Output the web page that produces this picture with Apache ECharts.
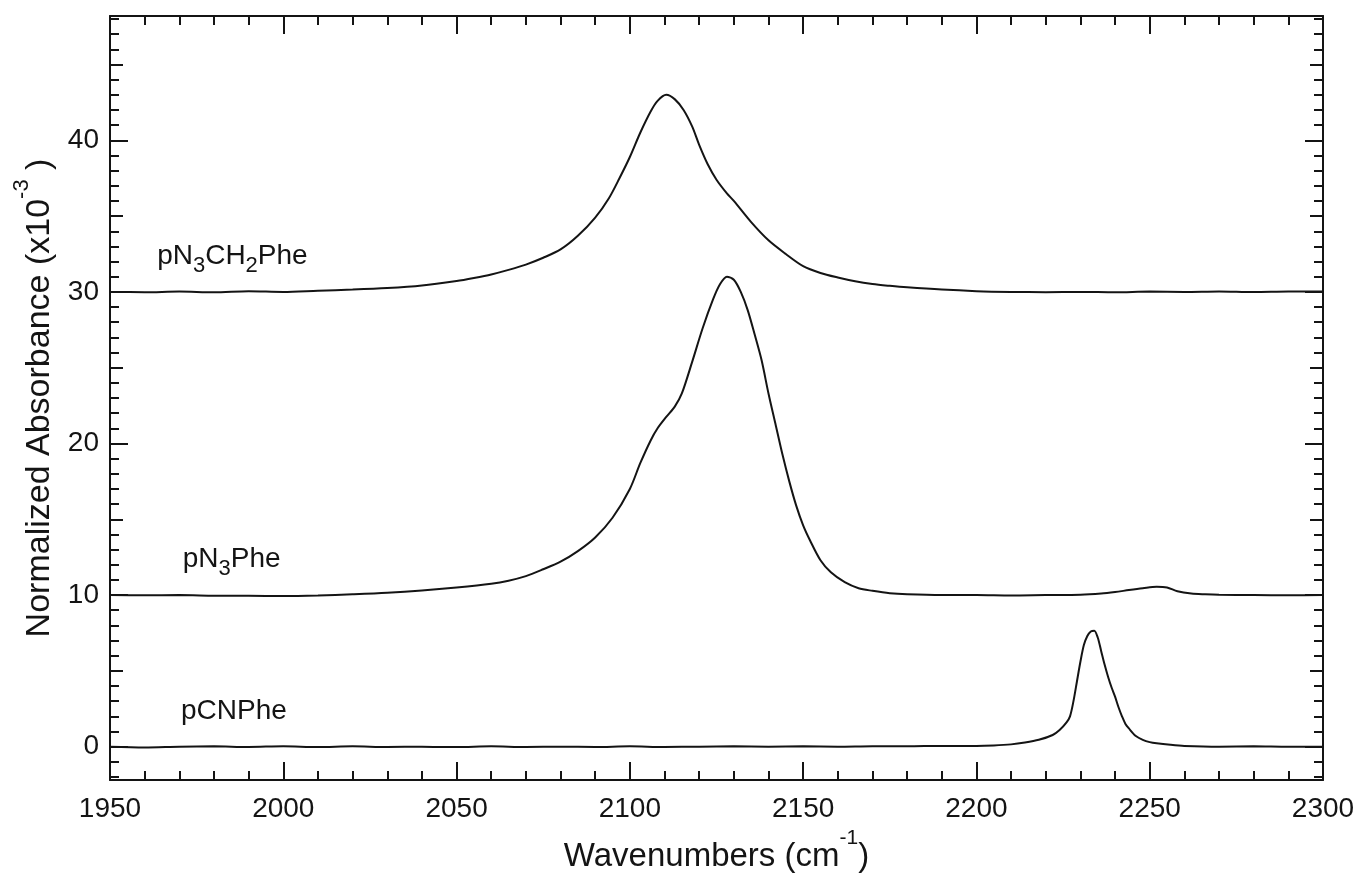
<!DOCTYPE html>
<html>
<head>
<meta charset="utf-8">
<title>IR spectra</title>
<script src="https://cdn.jsdelivr.net/npm/echarts@6/dist/echarts.min.js"></script>
<style>
html,body{margin:0;padding:0;background:#fff;}
#charts_area{width:1356px;height:875px;}
</style>
</head>
<body>
<div id="charts_area"></div>
<script>
// pN3CH2Phe, offset +30
var waveCH2 = [1950,1960,1970,1980,1990,2000,2010,2020,2030,2040,2050,2055,2060,2065,2070,2075,2080,2085,2090,2094,2097,2100,2103,2106,2108,2110.5,2113,2115.5,2118,2120,2122.5,2125,2128,2130,2135,2140,2145,2150,2155,2160,2165,2170,2175,2180,2190,2200,2210,2220,2230,2240,2250,2260,2270,2280,2290,2300];
var absCH2 = [30.0,29.98,30.02,29.97,30.05,30.0,30.08,30.15,30.25,30.42,30.72,30.92,31.15,31.45,31.8,32.25,32.8,33.7,34.9,36.2,37.5,38.9,40.5,41.9,42.6,43.0,42.7,42.0,40.9,39.7,38.4,37.4,36.5,36.0,34.6,33.4,32.5,31.7,31.25,30.95,30.7,30.52,30.4,30.3,30.15,30.05,30.0,29.98,30.0,29.97,30.02,30.0,30.03,29.99,30.02,30.02];

// pN3Phe, offset +10
var waveN3 = [1950,1960,1970,1980,1990,2000,2010,2020,2030,2040,2050,2060,2065,2070,2075,2080,2085,2090,2095,2100,2103,2106,2108,2110.5,2113,2115,2118,2121,2124,2126,2128,2130,2132,2134,2136,2138,2140,2142,2144,2146,2148,2150,2152,2155,2158,2162,2166,2170,2175,2180,2190,2200,2210,2220,2230,2236,2240,2244,2248,2252,2255,2258,2262,2266,2270,2280,2290,2300];
var absN3 = [10.0,9.98,10.0,9.96,9.95,9.93,9.97,10.05,10.15,10.3,10.5,10.75,10.95,11.25,11.7,12.2,12.9,13.8,15.1,17.0,18.7,20.2,21.0,21.75,22.45,23.3,25.4,27.6,29.5,30.5,31.0,30.8,30.0,28.8,27.2,25.5,23.3,21.3,19.3,17.5,15.9,14.6,13.6,12.3,11.5,10.85,10.45,10.28,10.12,10.05,10.0,10.0,9.97,10.0,10.02,10.1,10.2,10.33,10.45,10.55,10.5,10.25,10.1,10.05,10.02,10.0,9.98,10.0];

// pCNPhe, no offset
var waveCN = [1950,1960,1970,1980,1990,2000,2010,2020,2030,2040,2050,2060,2070,2080,2090,2100,2110,2120,2130,2140,2150,2160,2170,2180,2190,2200,2205,2210,2214,2218,2222,2224,2226,2227,2228,2229,2230,2231,2232,2233,2234,2235,2236,2237,2238,2239,2240,2241,2242,2243,2244,2246,2248,2250,2252,2256,2260,2270,2280,2290,2300];
var absCN = [0.0,-0.05,0.0,0.02,-0.02,0.03,-0.03,0.02,-0.02,0.0,-0.03,0.02,-0.02,0.0,-0.02,0.02,-0.02,0.0,0.02,0.0,0.02,0.0,0.03,0.02,0.05,0.05,0.08,0.15,0.27,0.45,0.77,1.1,1.6,2.0,3.0,4.3,5.6,6.7,7.3,7.6,7.65,7.2,6.3,5.4,4.6,3.9,3.3,2.6,2.0,1.5,1.2,0.7,0.45,0.3,0.22,0.12,0.05,0.0,0.02,-0.01,0.0];

var xTicks = [1950,2000,2050,2100,2150,2200,2250,2300];
var yTicks = [0,10,20,30,40];

// text tags next to each trace
var tagNames = ['pN3CH2Phe','pN3Phe','pCNPhe'];
var tagWave = [1963.6,1971,1970.5];
var tagAbs = [32.35,12.37,2.35];

var FONT = '"Liberation Sans", Arial, Helvetica, sans-serif';
var INK = '#141414';

window.onload = function(){
	initEcharts();
};

function pairs(xs, ys){
	var out = [];
	for(var i=0;i<xs.length;i++){
		out.push([xs[i], ys[i]]);
	}
	return out;
}

function tagText(name){
	if(name=='pN3CH2Phe') return '{t|pN}{s|3}{t|CH}{s|2}{t|Phe}';
	if(name=='pN3Phe') return '{t|pN}{s|3}{t|Phe}';
	return '{t|' + name + '}';
}

function makeY(pos, step, len, showLabel, showLine){
	return {
		type: 'value',
		position: pos,
		min: -2.2,
		max: 48.2,
		splitNumber: Math.round(50 / step),
		minInterval: step,
		maxInterval: step,
		axisLine: {show: showLine, onZero: false, lineStyle: {color: INK, width: 2}},
		axisTick: {show: true, inside: true, length: len, lineStyle: {color: INK, width: 2}},
		axisLabel: {
			show: showLabel,
			margin: 11,
			fontSize: 28,
			fontFamily: FONT,
			color: INK,
			formatter: function(v){
				return yTicks.indexOf(v) >= 0 ? String(v) : '';
			}
		},
		splitLine: {show: false}
	};
}

function makeX(pos, showLabel){
	return {
		type: 'value',
		position: pos,
		min: xTicks[0],
		max: xTicks[xTicks.length-1],
		interval: 50,
		axisLine: {show: true, onZero: false, lineStyle: {color: INK, width: 2}},
		axisTick: {show: true, inside: true, length: 18, lineStyle: {color: INK, width: 2}},
		minorTick: {show: true, splitNumber: 5, length: 9, lineStyle: {color: INK, width: 2}},
		axisLabel: {
			show: showLabel,
			margin: 15,
			fontSize: 28,
			fontFamily: FONT,
			color: INK,
			formatter: function(v){
				return String(v);
			}
		},
		splitLine: {show: false}
	};
}

function lineSeries(name, xs, ys){
	return {
		name: name,
		type: 'line',
		data: pairs(xs, ys),
		showSymbol: false,
		smooth: 0.3,
		lineStyle: {color: INK, width: 2}
	};
}

function initEcharts(){
	var myChart = echarts.init(document.getElementById('charts_area'), null, {renderer: 'canvas'});

	var xBottom = makeX('bottom', true);
	xBottom.name = 'Wavenumbers (cm{sup|-1})';
	xBottom.nameLocation = 'middle';
	xBottom.nameGap = 48;
	xBottom.nameMoveOverlap = false;
	xBottom.nameTextStyle = {
		fontSize: 33, fontFamily: FONT, color: INK, lineHeight: 57,
		rich: {
			sup: {fontSize: 21, lineHeight: 21, verticalAlign: 'top', fontFamily: FONT, color: INK}
		}
	};

	var yMain = makeY('left', 10, 18, true, true);
	yMain.name = 'Normalized Absorbance (x10{sup|-3} )';
	yMain.nameLocation = 'middle';
	yMain.nameGap = 41;
	yMain.nameMoveOverlap = false;
	yMain.nameTextStyle = {
		fontSize: 34, fontFamily: FONT, color: INK, lineHeight: 58,
		rich: {
			sup: {fontSize: 22, lineHeight: 22, verticalAlign: 'top', fontFamily: FONT, color: INK}
		}
	};

	var tagData = [];
	for(var i=0;i<tagNames.length;i++){
		tagData.push({name: tagNames[i], value: [tagWave[i], tagAbs[i]]});
	}

	var option = {
		animation: false,
		backgroundColor: '#fff',
		grid: {
			left: 110,
			right: 33,
			top: 16,
			bottom: 95,
			containLabel: false,
			outerBoundsMode: 'none'
		},
		xAxis: [xBottom, makeX('top', false)],
		yAxis: [
			yMain,
			makeY('left', 5, 13, false, false),
			makeY('left', 1, 9, false, false),
			makeY('right', 10, 18, false, true),
			makeY('right', 5, 13, false, false),
			makeY('right', 1, 9, false, false)
		],
		series: [
			lineSeries('pN3CH2Phe', waveCH2, absCH2),
			lineSeries('pN3Phe', waveN3, absN3),
			lineSeries('pCNPhe', waveCN, absCN),
			{
				name: 'tags',
				type: 'scatter',
				symbolSize: 0,
				silent: true,
				itemStyle: {opacity: 1},
				data: tagData,
				label: {
					show: true,
					position: 'right',
					distance: 0,
					opacity: 1,
					color: INK,
					formatter: function(p){
						return tagText(p.name);
					},
					rich: {
						t: {fontSize: 28, lineHeight: 30, fontFamily: FONT, color: INK},
						s: {fontSize: 22, lineHeight: 22, padding: [20,0,0,0], fontFamily: FONT, color: INK}
					}
				}
			}
		]
	};
	myChart.setOption(option);
}
</script>
</body>
</html>
